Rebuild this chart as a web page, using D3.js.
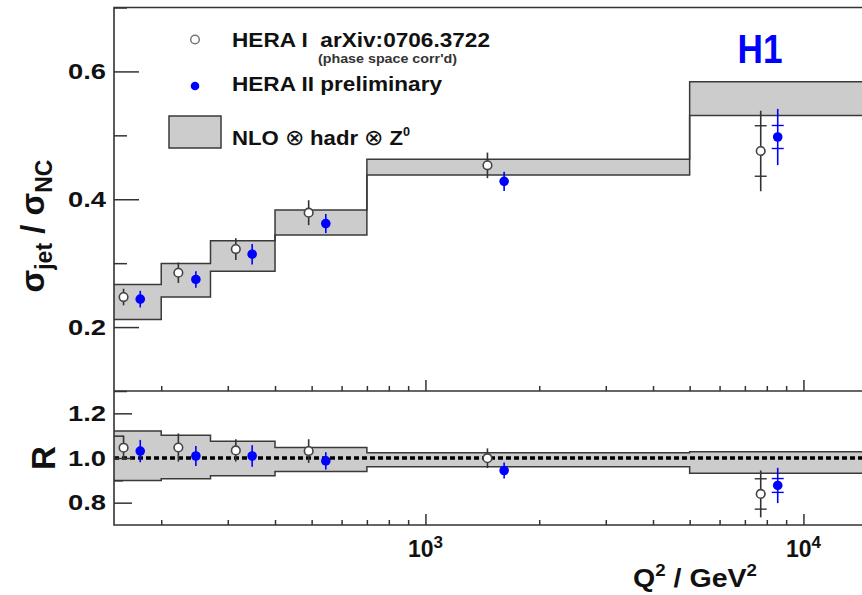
<!DOCTYPE html>
<html>
<head>
<meta charset="utf-8">
<script src="https://cdn.jsdelivr.net/npm/d3@7"></script>
<style>
  body { margin: 0; background: #fff; }
  svg { display: block; font-family: "Liberation Sans", Arial, sans-serif; font-weight: bold; }
  .axis path, .axis line { stroke: #333; stroke-width: 1.5; }
  .axis text { font-size: 22px; font-weight: bold; fill: #111; font-family: "Liberation Sans", Arial, sans-serif; }
</style>
</head>
<body>
<div id="chart"></div>
<script>
// Q2 bins (GeV^2)
const binEdges = [150, 200, 270, 400, 700, 5000, 15000];

// NLO x hadr x Z0 band, upper panel
const nloLow  = [0.212, 0.247, 0.2875, 0.344, 0.438, 0.531];
const nloHigh = [0.2667, 0.2995, 0.335, 0.3833, 0.4625, 0.584];
// band in ratio panel
const ratioLow  = [0.899, 0.907, 0.920, 0.939, 0.961, 0.932];
const ratioHigh = [1.121, 1.102, 1.0755, 1.047, 1.024, 1.028];

// HERA I (open circles)
const heraIQ2   = [159, 222, 315, 491, 1459, 7709];
const heraI     = [0.247, 0.285, 0.322, 0.379, 0.453, 0.4755];
const heraIErr  = [0.013, 0.016, 0.017, 0.0195, 0.02, 0.063];
const heraIStat = [null, null, null, null, null, 0.0395];
const heraIR     = [1.046, 1.047, 1.034, 1.031, 0.999, 0.839];
const heraIRErr  = [0.055, 0.063, 0.05, 0.053, 0.044, 0.105];
const heraIRStat = [null, null, null, null, null, 0.068];

// HERA II preliminary (blue dots)
const heraIIQ2   = [176, 247, 348, 545, 1615, 8550];
const heraII     = [0.2437, 0.2745, 0.314, 0.362, 0.428, 0.4974];
const heraIIErr  = [0.013, 0.013, 0.016, 0.015, 0.015, 0.044];
const heraIIStat = [null, null, null, null, null, 0.018];
const heraIIR     = [1.031, 1.009, 1.009, 0.987, 0.944, 0.877];
const heraIIRErr  = [0.05, 0.045, 0.048, 0.039, 0.036, 0.079];
const heraIIRStat = [null, null, null, null, null, 0.031];

const topTicks = [0.2, 0.4, 0.6], topMinor = [0.1, 0.3, 0.5, 0.7];
const botTicks = [0.8, 1.0, 1.2], botMinor = [0.9, 1.1];
const xMajor = [1000, 10000];
const xMinor = [200, 300, 400, 500, 600, 700, 800, 900, 2000, 3000, 4000, 5000, 6000, 7000, 8000, 9000];

const width = 862, height = 595;
const svg = d3.select('#chart').append('svg')
    .attr('width', width).attr('height', height);

const x = d3.scaleLog().domain([150, 15000]).range([114, 870]);
const yTop = d3.scaleLinear().domain([0.1, 0.7]).range([391, 7.5]);
const yBot = d3.scaleLinear().domain([0.7, 1.3]).range([525, 391]);

// step band: filled area + upper and lower step lines
function drawBand(y, low, high) {
    const pts = [];
    low.forEach((v, i) => {
        pts.push({x: binEdges[i], lo: v, hi: high[i]});
        pts.push({x: binEdges[i + 1], lo: v, hi: high[i]});
    });
    svg.append('path')
        .attr('d', d3.area().x(d => x(d.x)).y0(d => y(d.lo)).y1(d => y(d.hi))(pts))
        .attr('fill', '#cccccc');
    ['lo', 'hi'].forEach(k => {
        svg.append('path')
            .attr('d', d3.line().x(d => x(d.x)).y(d => y(d[k]))(pts))
            .attr('fill', 'none')
            .attr('stroke', '#3a3a3a')
            .attr('stroke-width', 1.5);
    });
}

drawBand(yTop, nloLow, nloHigh);
drawBand(yBot, ratioLow, ratioHigh);

// dashed line at R = 1
svg.append('line')
    .attr('x1', x(150)).attr('x2', x(15000))
    .attr('y1', yBot(1)).attr('y2', yBot(1))
    .attr('stroke', '#000').attr('stroke-width', 3.5)
    .attr('stroke-dasharray', '5,3');

// data points with error bars
function drawPoints(y, q2, vals, errs, stats, color, open) {
    const g = svg.append('g');
    vals.forEach((v, i) => {
        const cx = x(q2[i]);
        g.append('line')
            .attr('x1', cx).attr('x2', cx)
            .attr('y1', y(v - errs[i])).attr('y2', y(v + errs[i]))
            .attr('stroke', color).attr('stroke-width', 1.6);
        if (stats[i] != null) {
            [v - stats[i], v + stats[i]].forEach(s => {
                g.append('line')
                    .attr('x1', cx - 6).attr('x2', cx + 6)
                    .attr('y1', y(s)).attr('y2', y(s))
                    .attr('stroke', color).attr('stroke-width', 1.4);
            });
        }
        g.append('circle')
            .attr('cx', cx).attr('cy', y(v))
            .attr('r', open ? 4.3 : 4.8)
            .attr('fill', open ? '#fff' : color)
            .attr('stroke', open ? '#444' : color)
            .attr('stroke-width', open ? 1.6 : 0);
    });
}

drawPoints(yTop, heraIQ2, heraI, heraIErr, heraIStat, '#333', true);
drawPoints(yTop, heraIIQ2, heraII, heraIIErr, heraIIStat, '#0000ff', false);
drawPoints(yBot, heraIQ2, heraIR, heraIRErr, heraIRStat, '#333', true);
drawPoints(yBot, heraIIQ2, heraIIR, heraIIRErr, heraIIRStat, '#0000ff', false);

// axes
function yAxis(y, major, minor, lenMajor, lenMinor) {
    svg.append('g').attr('class', 'axis')
        .attr('transform', 'translate(114,0)')
        .call(d3.axisLeft(y).tickValues(major).tickSize(-lenMajor).tickPadding(8)
            .tickFormat(d3.format('.1f')))
        .call(g => g.select('.domain').remove())
        .call(g => g.selectAll('text').attr('textLength', 38).attr('lengthAdjust', 'spacingAndGlyphs'));
    svg.append('g').attr('class', 'axis')
        .attr('transform', 'translate(114,0)')
        .call(d3.axisLeft(y).tickValues(minor).tickSize(-lenMinor).tickFormat(''))
        .call(g => g.select('.domain').remove());
}
yAxis(yTop, topTicks, topMinor, 25, 13);
yAxis(yBot, botTicks, botMinor, 18, 9);

[391, 525].forEach(yy => {
    svg.append('g').attr('class', 'axis')
        .attr('transform', `translate(0,${yy})`)
        .call(d3.axisBottom(x).tickValues(xMajor).tickSize(-11).tickFormat(''))
        .call(g => g.select('.domain').remove());
    svg.append('g').attr('class', 'axis')
        .attr('transform', `translate(0,${yy})`)
        .call(d3.axisBottom(x).tickValues(xMinor).tickSize(-5).tickFormat(''))
        .call(g => g.select('.domain').remove());
});

// frame
const frame = svg.append('g').attr('stroke', '#333').attr('stroke-width', 1.6).attr('fill', 'none');
frame.append('path').attr('d', `M${x(15000)},7.5 H114 V525 H${x(15000)}`);
frame.append('line').attr('x1', 114).attr('x2', x(15000)).attr('y1', 391).attr('y2', 391);

// x tick labels 10^3, 10^4
xMajor.forEach(v => {
    const t = svg.append('text')
        .attr('x', x(v)).attr('y', 557)
        .attr('text-anchor', 'middle')
        .attr('font-size', 23).attr('fill', '#111');
    t.append('tspan').text('10');
    t.append('tspan').attr('dy', -9).attr('font-size', 17).text(Math.round(Math.log10(v)));
});

// axis titles
const xt = svg.append('text').attr('x', 757).attr('y', 587)
    .attr('text-anchor', 'end').attr('font-size', 26).attr('fill', '#111')
    .attr('textLength', 124).attr('lengthAdjust', 'spacingAndGlyphs');
xt.append('tspan').text('Q');
xt.append('tspan').attr('dy', -11).attr('font-size', 17).text('2');
xt.append('tspan').attr('dy', 11).text(' / GeV');
xt.append('tspan').attr('dy', -11).attr('font-size', 17).text('2');

const yt = svg.append('text')
    .attr('transform', 'translate(44,226) rotate(-90)')
    .attr('text-anchor', 'middle').attr('font-size', 33).attr('fill', '#111');
yt.append('tspan').text('σ');
yt.append('tspan').attr('dy', 8).attr('font-size', 23).text('jet');
yt.append('tspan').attr('dy', -8).text(' / σ');
yt.append('tspan').attr('dy', 8).attr('font-size', 23).text('NC');

svg.append('text')
    .attr('transform', 'translate(55,458) rotate(-90)')
    .attr('text-anchor', 'middle').attr('font-size', 33).attr('fill', '#111')
    .text('R');

// H1 label
svg.append('text').attr('x', 760).attr('y', 63).attr('text-anchor', 'middle')
    .attr('font-size', 41).attr('fill', '#0000ff')
    .attr('textLength', 45).attr('lengthAdjust', 'spacingAndGlyphs')
    .text('H1');

// legend
const leg = svg.append('g');
leg.append('circle').attr('cx', 195).attr('cy', 39.5).attr('r', 4.3)
    .attr('fill', '#fff').attr('stroke', '#777').attr('stroke-width', 1.5);
leg.append('text').attr('x', 232).attr('y', 47).attr('font-size', 20).attr('fill', '#111')
    .attr('textLength', 258).attr('lengthAdjust', 'spacingAndGlyphs')
    .style('white-space', 'pre').text('HERA I  arXiv:0706.3722');
leg.append('text').attr('x', 318).attr('y', 63).attr('font-size', 12).attr('fill', '#333')
    .attr('textLength', 139).attr('lengthAdjust', 'spacingAndGlyphs')
    .text("(phase space corr'd)");
leg.append('circle').attr('cx', 195).attr('cy', 86).attr('r', 4.3).attr('fill', '#0000ff');
leg.append('text').attr('x', 232).attr('y', 91).attr('font-size', 20).attr('fill', '#111')
    .attr('textLength', 210).attr('lengthAdjust', 'spacingAndGlyphs')
    .text('HERA II preliminary');
leg.append('rect').attr('x', 169).attr('y', 116).attr('width', 52).attr('height', 32)
    .attr('fill', '#cccccc').attr('stroke', '#3a3a3a').attr('stroke-width', 1.5);
const lt = leg.append('text').attr('x', 232).attr('y', 145).attr('font-size', 21).attr('fill', '#111')
    .style('white-space', 'pre')
    .attr('textLength', 178).attr('lengthAdjust', 'spacingAndGlyphs');
lt.append('tspan').text('NLO ');
lt.append('tspan').attr('font-weight', 'normal').attr('font-size', 22).text('⊗');
lt.append('tspan').text(' hadr ');
lt.append('tspan').attr('font-weight', 'normal').attr('font-size', 22).text('⊗');
lt.append('tspan').text(' Z');
lt.append('tspan').attr('dy', -9).attr('font-size', 12).text('0');
</script>
</body>
</html>
